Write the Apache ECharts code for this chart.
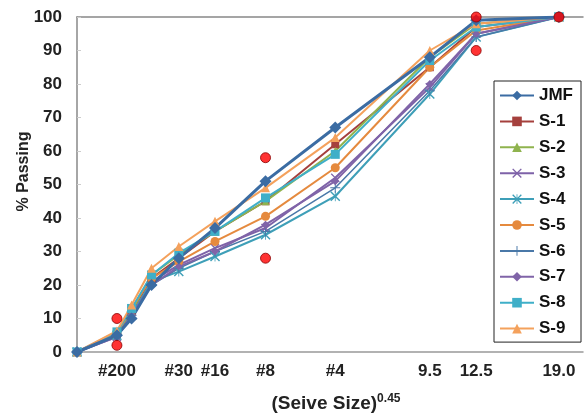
<!DOCTYPE html>
<html>
<head>
<meta charset="utf-8">
<script src="https://cdn.jsdelivr.net/npm/echarts@6/dist/echarts.min.js"></script>
<style>
  html, body { margin: 0; padding: 0; background: #fff; }
  #chart { width: 584px; height: 417px; }
</style>
</head>
<body>
<div id="chart"></div>
<script>
// sieve openings (mm), plotted on a 0.45 power scale
const sieveSizes = [0, 0.075, 0.15, 0.3, 0.6, 1.18, 2.36, 4.75, 9.5, 12.5, 19.0];
const tickSizes = [0.075, 0.6, 1.18, 2.36, 4.75, 9.5, 12.5, 19.0];
const tickLabels = ['#200', '#30', '#16', '#8', '#4', '9.5', '12.5', '19.0'];

const jmf = [0, 5, 10, 20, 28, 37, 51, 67, 88, 99, 100];
const s1 = [0, 5, 12, 22, 28, 36, 45, 62, 85, 97, 100];
const s2 = [0, 5, 12, 23, 29, 36, 45, 60, 88, 98, 100];
const s3 = [0, 4.5, 11, 21, 26, 31, 37, 52, 79, 95, 100];
const s4 = [0, 5, 11, 21, 24, 28.5, 35, 46.5, 77, 94, 100];
const s5 = [0, 5.5, 13, 22, 27, 33, 40.5, 55, 85, 96, 100];
const s6 = [0, 5, 11, 20, 25, 30, 36, 49, 78, 94, 100];
const s7 = [0, 4.5, 11, 20, 25.5, 30, 38, 51, 80, 95, 100];
const s8 = [0, 6, 13, 23, 29.5, 36, 46, 59, 87, 97, 100];
const s9 = [0, 6.3, 14, 25, 31.5, 39, 49, 64, 90, 98, 100];

// control points
const controlSizes = [0.075, 0.075, 2.36, 2.36, 12.5, 12.5, 19.0];
const controlValues = [2, 10, 28, 58, 90, 100, 100];

const p45 = (s) => Math.pow(s, 0.45);

const X_PATH = 'path://M0,1 L1,0 L5,4 L9,0 L10,1 L6,5 L10,9 L9,10 L5,6 L1,10 L0,9 L4,5 Z';
const PLUS_PATH = 'path://M4.5,0 L5.5,0 L5.5,4.5 L10,4.5 L10,5.5 L5.5,5.5 L5.5,10 L4.5,10 L4.5,5.5 L0,5.5 L0,4.5 L4.5,4.5 Z';
const STAR_PATH = 'path://M0,1 L1,0 L5,4 L9,0 L10,1 L6,5 L10,9 L9,10 L5,6 L1,10 L0,9 L4,5 Z M4.6,0 L5.4,0 L5.4,10 L4.6,10 Z';

const mkSeries = (name, values, color, symbol, size, width) => ({
    name: name,
    type: 'line',
    data: sieveSizes.map((s, i) => [p45(s), values[i]]),
    symbol: symbol,
    symbolSize: size,
    showSymbol: true,
    lineStyle: { color: color, width: width },
    itemStyle: { color: color },
});

const series = [
    mkSeries('S-1', s1, '#A5403D', 'rect', 8, 2),
    mkSeries('S-2', s2, '#8FB34E', 'triangle', 8, 2),
    mkSeries('S-3', s3, '#7E62A8', X_PATH, 9, 2),
    mkSeries('S-4', s4, '#3E9FB8', STAR_PATH, 10, 2),
    mkSeries('S-5', s5, '#E58A3E', 'circle', 9, 2),
    mkSeries('S-6', s6, '#4A78A8', PLUS_PATH, 10, 1.5),
    mkSeries('S-7', s7, '#8064A8', 'diamond', 8, 2),
    mkSeries('S-8', s8, '#3FAFC8', 'rect', 9, 2),
    mkSeries('S-9', s9, '#F4A15C', 'triangle', 9, 2),
    mkSeries('JMF', jmf, '#3B6CA3', 'diamond', 12, 3),
    {
        name: 'Control',
        type: 'scatter',
        data: controlSizes.map((s, i) => [p45(s), controlValues[i]]),
        symbol: 'circle',
        symbolSize: 10,
        itemStyle: { color: '#FF0000', borderColor: '#8B0000', borderWidth: 1 },
        z: 5,
    },
];

const chart = echarts.init(document.getElementById('chart'), null, { renderer: 'canvas' });

const labelFont = { fontFamily: 'Liberation Sans', fontWeight: 'bold', fontSize: 17, color: '#222' };

chart.setOption({
    backgroundColor: '#FFFFFF',
    animation: false,
    grid: { left: 77, right: 1, top: 17, bottom: 65, outerBoundsMode: 'none', containLabel: false },
    legend: {
        data: ['JMF', 'S-1', 'S-2', 'S-3', 'S-4', 'S-5', 'S-6', 'S-7', 'S-8', 'S-9'],
        orient: 'vertical',
        left: 494,
        top: 81,
        width: 86,
        padding: [6, 8, 5, 5],
        itemWidth: 34,
        itemHeight: 12,
        itemGap: 8.9,
        borderColor: '#222',
        borderWidth: 1,
        backgroundColor: '#fff',
        textStyle: { fontFamily: 'Liberation Sans', fontWeight: 'bold', fontSize: 17, color: '#111' },
    },
    xAxis: [
        {
            type: 'value',
            min: 0,
            max: 3.95,
            position: 'bottom',
            name: '(Seive Size){sup|0.45}',
            nameLocation: 'middle',
            nameGap: 41,
            nameMoveOverlap: false,
            nameTextStyle: {
                fontFamily: 'Liberation Sans', fontWeight: 'bold', fontSize: 19, color: '#222',
                padding: [0, 0, 0, 12],
                rich: {
                    sup: { fontFamily: 'Liberation Sans', fontWeight: 'bold', fontSize: 12, color: '#222', verticalAlign: 'top', padding: [0, 0, 10, 0] },
                },
            },
            axisLine: { show: true, lineStyle: { color: '#999', width: 1.5 } },
            axisTick: { show: false },
            splitLine: { show: false },
            axisLabel: Object.assign({}, labelFont, {
                margin: 11,
                showMaxLabel: true,
                customValues: tickSizes.map(p45),
                formatter: (v) => {
                    const i = tickSizes.findIndex((s) => Math.abs(p45(s) - v) < 1e-6);
                    return i >= 0 ? tickLabels[i] : '';
                },
            }),
        },
        {
            type: 'value',
            min: 0,
            max: 3.95,
            position: 'top',
            axisLine: { show: true, lineStyle: { color: '#888', width: 1.5 } },
            axisTick: { show: false },
            axisLabel: { show: false },
            splitLine: { show: false },
        },
    ],
    yAxis: {
        type: 'value',
        min: 0,
        max: 100,
        interval: 10,
        name: '% Passing',
        nameLocation: 'middle',
        nameGap: 45,
        nameMoveOverlap: false,
        nameTextStyle: { fontFamily: 'Liberation Sans', fontWeight: 'bold', fontSize: 16, color: '#222', padding: [0, 0, 0, 26] },
        axisLine: { show: true, lineStyle: { color: '#888', width: 1.5 } },
        axisTick: { show: true, inside: true, length: 4, lineStyle: { color: '#ccc' } },
        splitLine: { show: false },
        axisLabel: Object.assign({}, labelFont, { margin: 15 }),
    },
    series: series,
});
</script>
</body>
</html>
